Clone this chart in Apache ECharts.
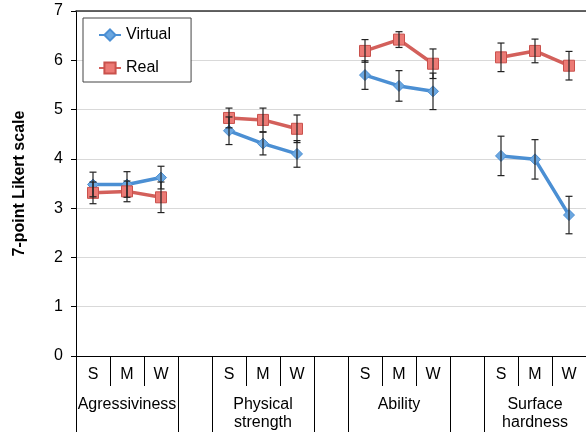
<!DOCTYPE html>
<html>
<head>
<meta charset="utf-8">
<script src="https://cdn.jsdelivr.net/npm/echarts@6/dist/echarts.min.js"></script>
<style>
html,body{margin:0;padding:0;background:#fff;}
#chart{width:586px;height:432px;}
</style>
</head>
<body>
<div id="chart"></div>
<script>
// ---- data ----
const groups = ['Agressiviness', 'Physical\nstrength', 'Ability', 'Surface\nhardness'];
const conditions = ['S', 'M', 'W'];
const yTicks = [0, 1, 2, 3, 4, 5, 6, 7];
const virtualMean = [3.48, 3.48, 3.62, 4.57, 4.31, 4.10, 5.70, 5.48, 5.37, 4.06, 3.99, 2.86];
const virtualErr  = [0.25, 0.26, 0.23, 0.28, 0.23, 0.27, 0.29, 0.31, 0.37, 0.40, 0.40, 0.38];
const realMean    = [3.31, 3.34, 3.22, 4.83, 4.79, 4.61, 6.19, 6.42, 5.93, 6.06, 6.19, 5.89];
const realErr     = [0.22, 0.21, 0.31, 0.20, 0.24, 0.28, 0.23, 0.16, 0.30, 0.29, 0.24, 0.29];

// ---- build slot layout (groups of 3 separated by an empty slot) ----
const slots = [], groupLabels = [], groupStart = new Set(), slotOfPoint = [];
groups.forEach((g, gi) => {
  if (gi > 0) { groupStart.add(slots.length); slots.push(''); groupLabels.push(''); }
  groupStart.add(slots.length);
  conditions.forEach((c, ci) => {
    slotOfPoint.push(slots.length);
    slots.push(c);
    groupLabels.push(ci === 1 ? g : '');
  });
});
function toSlots(arr) {
  const out = slots.map(() => null);
  arr.forEach((v, i) => { out[slotOfPoint[i]] = v; });
  return out;
}
function errData(mean, err) {
  return mean.map((m, i) => [slotOfPoint[i], m - err[i], m + err[i]]);
}

const FONT = 'Liberation Sans, Arial, Helvetica, sans-serif';
const chart = echarts.init(document.getElementById('chart'), null, {renderer: 'canvas'});

function errorBar(params, api) {
  const x = api.value(0);
  const lo = api.coord([x, api.value(1)]);
  const hi = api.coord([x, api.value(2)]);
  const w = 3.5;
  const st = {stroke: '#222', lineWidth: 1.2};
  return {
    type: 'group',
    children: [
      {type: 'line', shape: {x1: lo[0], y1: lo[1], x2: hi[0], y2: hi[1]}, style: st},
      {type: 'line', shape: {x1: lo[0] - w, y1: lo[1], x2: lo[0] + w, y2: lo[1]}, style: st},
      {type: 'line', shape: {x1: hi[0] - w, y1: hi[1], x2: hi[0] + w, y2: hi[1]}, style: st}
    ]
  };
}

const option = {
  animation: false,
  backgroundColor: '#fff',
  textStyle: {fontFamily: FONT},
  grid: {left: 76, right: 0, top: 11, bottom: 75, containLabel: false},
  legend: {
    left: 83, top: 18,
    orient: 'vertical',
    padding: [9, 20, 6, 15],
    itemGap: 17,
    itemWidth: 22, itemHeight: 14,
    borderColor: '#444', borderWidth: 1,
    backgroundColor: '#fff',
    textStyle: {fontFamily: FONT, fontSize: 16, color: '#000'},
    data: ['Virtual', 'Real']
  },
  xAxis: [
    {
      type: 'category', data: slots, position: 'bottom', boundaryGap: true,
      axisLine: {show: true, lineStyle: {color: '#000', width: 1}},
      axisTick: {show: true, interval: 0, length: 30, lineStyle: {color: '#000'}},
      axisLabel: {interval: 0, margin: 11, fontSize: 16, color: '#000', fontFamily: FONT},
      splitLine: {show: false}
    },
    {
      type: 'category', data: groupLabels, position: 'bottom', boundaryGap: true,
      axisLine: {show: false},
      axisTick: {show: true, length: 76, interval: (i) => groupStart.has(i), lineStyle: {color: '#000'}},
      axisLabel: {interval: (i, v) => v !== '', margin: 40, fontSize: 16, lineHeight: 18, color: '#000', fontFamily: FONT},
      splitLine: {show: false}
    },
    {
      type: 'category', data: slots, position: 'top', boundaryGap: true,
      axisLine: {show: true, lineStyle: {color: '#333', width: 1.5}},
      axisTick: {show: false}, axisLabel: {show: false}, splitLine: {show: false}
    }
  ],
  yAxis: {
    type: 'value', min: yTicks[0], max: yTicks[yTicks.length - 1], interval: 1,
    name: '7-point Likert scale', nameLocation: 'middle', nameGap: 48,
    nameTextStyle: {fontFamily: FONT, fontSize: 16, fontWeight: 'bold', color: '#000'},
    axisLine: {show: true, lineStyle: {color: '#000', width: 1}},
    axisTick: {show: true, length: 5, lineStyle: {color: '#000'}},
    axisLabel: {margin: 13, fontSize: 16, color: '#000', fontFamily: FONT},
    splitLine: {show: true, lineStyle: {color: '#d9d9d9', width: 1}}
  },
  series: [
    {
      name: 'Virtual', type: 'line', xAxisIndex: 0, data: toSlots(virtualMean),
      connectNulls: false, symbol: 'diamond', symbolSize: 11,
      lineStyle: {color: '#4b8fd3', width: 3.5},
      itemStyle: {color: '#6ba7e0', borderColor: '#4b8fd3', borderWidth: 1},
      z: 3
    },
    {
      name: 'Real', type: 'line', xAxisIndex: 0, data: toSlots(realMean),
      connectNulls: false, symbol: 'rect', symbolSize: 11,
      lineStyle: {color: '#d3605b', width: 3.5},
      itemStyle: {color: '#ec7a75', borderColor: '#c9514c', borderWidth: 1},
      z: 4
    },
    {
      type: 'custom', xAxisIndex: 0, renderItem: errorBar,
      encode: {x: 0, y: [1, 2]}, data: errData(virtualMean, virtualErr), z: 5
    },
    {
      type: 'custom', xAxisIndex: 0, renderItem: errorBar,
      encode: {x: 0, y: [1, 2]}, data: errData(realMean, realErr), z: 5
    }
  ]
};
chart.setOption(option);
</script>
</body>
</html>
